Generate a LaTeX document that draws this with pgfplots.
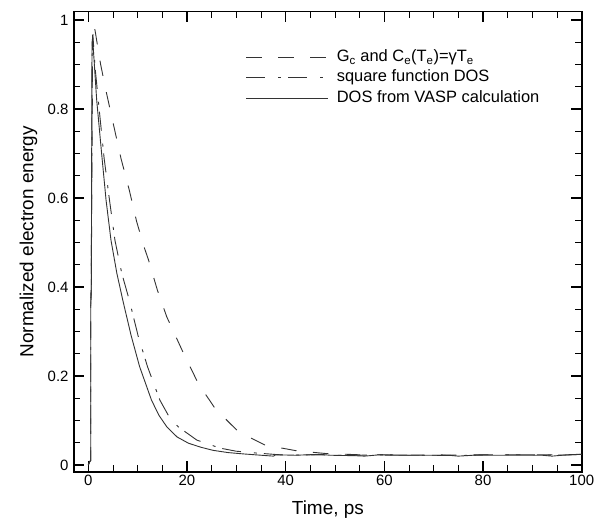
\documentclass[border=0pt]{standalone}
\usepackage{fontspec}
\setmainfont{Liberation Sans}
\usepackage{pgfplots}
\pgfplotsset{compat=1.18}
\begin{document}
\begin{tikzpicture}
\begin{axis}[
  scale only axis, width=507.7bp, height=460bp,
  xmin=-2.9, xmax=100, ymin=-0.015, ymax=1.0187,
  xtick={0,20,...,100}, ytick={0,0.2,0.4,0.6,0.8,1},
  minor x tick num=3, minor y tick num=3,
  tick align=inside,
  major tick length=10.5bp, minor tick length=6.5bp,
  major tick style={line width=1.6bp, black},
  minor tick style={line width=0.9bp, black},
  axis line style={line width=1.6bp},
  /pgf/number format/assume math mode=true,
  tick label style={font=\fontsize{15}{18}\selectfont},
  yticklabel style={xshift=-2bp},
  label style={font=\fontsize{19}{23}\selectfont},
  xlabel={Time, ps}, ylabel={Normalized electron energy},
  xlabel style={at={(axis description cs:0.5,-0.0941)}, anchor=base},
  ylabel style={at={(axis description cs:-0.080,0.5)}, anchor=base},
  legend style={draw=none, fill=none, inner sep=0pt, at={(axis description cs:0.3378,0.923)}, anchor=north west,
    font=\fontsize{16.5}{20}\selectfont, column sep=6.5bp,
    nodes={text height=12.5bp, text depth=4.3bp, inner sep=1.75bp}},
  legend cell align=left,
  legend image code/.code={\draw[#1] (0bp,0bp) -- (82bp,0bp);},
  every axis plot/.append style={line width=0.9bp, black!80},
]
% G_c and C_e = gamma T_e
\addplot[dash pattern=on 15.5bp off 16.5bp] coordinates {
(0,0) (0.3,0.008) (0.5,0.01) (0.5,0.38) (0.6,0.40) (0.9,0.985) (1.0,0.992)
(1.36,0.977) (2.5,0.90) (3.7,0.835) (5.2,0.76) (6.6,0.69) (8.3,0.618)
(9.8,0.547) (11.3,0.49) (12.2,0.461) (14.0,0.393) (15.9,0.333) (19.3,0.251)
(22.3,0.183) (25.7,0.127) (30.4,0.075) (35.8,0.045) (42.2,0.032) (48,0.026)
(55,0.023) (60,0.023) (65,0.022) (70,0.023) (75,0.022) (80,0.023) (85,0.023)
(90,0.023) (95,0.023) (100,0.024)
};
\addlegendentry{G\textsubscript{c} and C\textsubscript{e}(T\textsubscript{e})=γT\textsubscript{e}}
% square function DOS
\addplot[dash pattern=on 19bp off 13bp on 3bp off 7bp] coordinates {
(0,0) (0.3,0.008) (0.5,0.01) (0.5,0.37) (0.6,0.39) (0.8,0.955) (0.95,0.962)
(1.4,0.89) (2.2,0.80) (3.2,0.69) (4.3,0.595) (5.4,0.505) (6.8,0.43)
(8.3,0.371) (10.1,0.29) (12.0,0.221) (14.5,0.146) (16.2,0.112) (18.2,0.086)
(22.0,0.056) (26.7,0.038) (30,0.031) (34,0.027) (40,0.022) (45,0.023)
(50,0.022) (55,0.022) (60,0.023) (65,0.022) (70,0.022) (75,0.021) (80,0.023)
(85,0.023) (90,0.023) (95,0.022) (100,0.024)
};
\addlegendentry{square function DOS}
% DOS from VASP
\addplot[solid] coordinates {
(0,0) (0.3,0.008) (0.5,0.01) (0.5,0.36) (0.6,0.38) (0.75,0.95) (0.9,0.955)
(1.7,0.82) (2.7,0.70) (3.6,0.595) (4.6,0.505) (5.8,0.43) (7.1,0.365)
(8.7,0.29) (10.4,0.221) (12.8,0.146) (14.3,0.112) (15.9,0.086) (18,0.063)
(20.3,0.049) (22.8,0.040) (25.3,0.033) (28.3,0.028) (31.4,0.025) (35,0.022)
(37.5,0.020) (38,0.023) (42,0.022) (47,0.024) (49,0.022) (54,0.021)
(56,0.020) (59,0.023) (61,0.022) (66,0.022) (73,0.022) (75,0.020) (78,0.022)
(84,0.022) (92,0.022) (94,0.020) (96,0.022) (100,0.024)
};
\addlegendentry{DOS from VASP calculation}
\end{axis}
\pgfresetboundingbox
\path[use as bounding box] ([shift={(-74bp,-49.3bp)}]current axis.south west) rectangle ([shift={(23.3bp,11.7bp)}]current axis.north east);
\end{tikzpicture}
\end{document}
